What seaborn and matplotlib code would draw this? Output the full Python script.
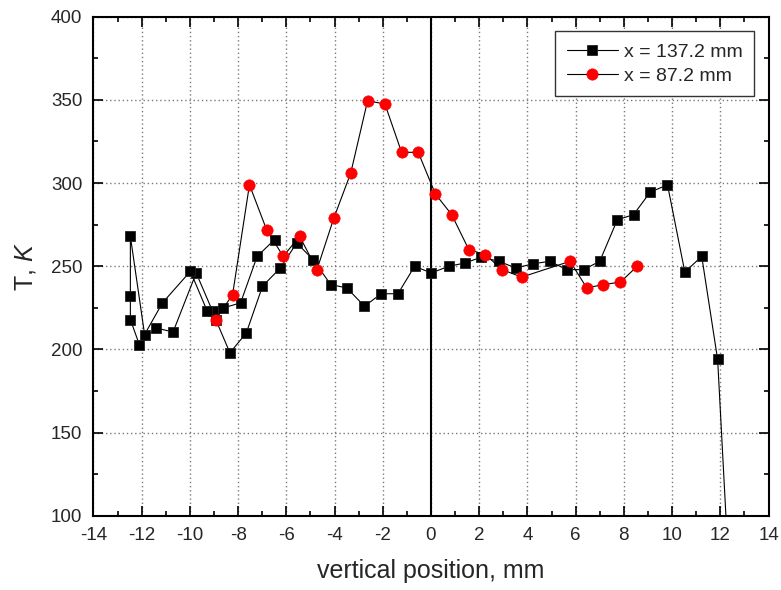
import matplotlib
matplotlib.use("Agg")
import matplotlib.pyplot as plt
from matplotlib.ticker import MultipleLocator
import seaborn as sns

# Temperature profile across the channel at x = 137.2 mm (scan order preserved)
black_x = [-6.49, -7.21, -7.90, -8.62, -9.06, -9.74, -10.70, -11.42, -12.10,
           -12.47, -12.47, -12.47, -11.88, -11.14, -9.98, -9.28, -8.93, -8.34,
           -7.66, -6.99, -6.25, -5.57, -4.89, -4.16, -3.49, -2.76, -2.07, -1.37,
           -0.68, 0.01, 0.74, 1.41, 2.09, 2.81, 3.52, 4.23, 4.92, 5.64, 6.33,
           7.00, 7.73, 8.40, 9.09, 9.81, 10.53, 11.23, 11.89, 12.60]
black_y = [266, 256, 228, 225, 223, 246, 210.5, 213, 203,
           218, 232, 268, 209, 228, 247, 223, 218, 198,
           210, 238, 249, 264, 254, 239, 237, 226, 233.5, 233.5,
           250, 246, 250, 252, 255.5, 253, 249, 251.5, 253, 248, 248,
           253, 278, 281, 294.5, 299, 246.5, 256, 194, 0]

# Temperature profile at x = 87.2 mm
red_x = [-8.93, -8.23, -7.53, -6.82, -6.13, -5.45, -4.73, -4.03, -3.33, -2.63,
         -1.91, -1.22, -0.53, 0.18, 0.86, 1.57, 2.26, 2.95, 3.76, 5.77, 6.46,
         7.15, 7.86, 8.55]
red_y = [218, 233, 299, 272, 256, 268, 248, 279, 306, 349.5,
         347.5, 318.5, 318.5, 293.5, 281, 260, 257, 248, 243.5, 253, 237,
         239, 240.5, 250]

labels = ["x = 137.2 mm", "x = 87.2 mm"]

sns.set_style("white")
plt.rcParams["font.family"] = ["Liberation Sans", "DejaVu Sans"]
plt.rcParams["axes.unicode_minus"] = False
plt.rcParams["mathtext.fontset"] = "custom"
plt.rcParams["mathtext.rm"] = "Liberation Sans"
plt.rcParams["mathtext.it"] = "Liberation Sans:italic"

fig = plt.figure(figsize=(7.81, 5.90), dpi=100)
ax = fig.add_axes([0.1197, 0.1256, 0.8643, 0.8461])

sns.lineplot(x=black_x, y=black_y, sort=False, estimator=None, ax=ax,
             color="black", linewidth=0.8, marker="s", markersize=7.3,
             markerfacecolor="black", markeredgecolor="#222222",
             markeredgewidth=0.6, label=labels[0])
sns.lineplot(x=red_x, y=red_y, sort=False, estimator=None, ax=ax,
             color="black", linewidth=0.8, marker="o", markersize=8.2,
             markerfacecolor="#ff0000", markeredgecolor="#ff0000",
             markeredgewidth=0.4, label=labels[1])

# centre line of the channel
ax.axvline(0, color="black", linewidth=1.5, zorder=1.5)

ax.set_xlim(-14, 14)
ax.set_ylim(100, 400)
ax.xaxis.set_major_locator(MultipleLocator(2))
ax.xaxis.set_minor_locator(MultipleLocator(1))
ax.yaxis.set_major_locator(MultipleLocator(50))
ax.yaxis.set_minor_locator(MultipleLocator(25))

ax.set_axisbelow(True)
ax.grid(True, which="major", color="#7a7a7a", linestyle=(0, (1, 2)),
        linewidth=1.0)

for side in ["left", "right", "top", "bottom"]:
    ax.spines[side].set_visible(True)
    ax.spines[side].set_color("black")
    ax.spines[side].set_linewidth(1.5)

ax.tick_params(which="both", direction="in", top=True, right=True,
               bottom=True, left=True, color="black", width=1.2)
ax.tick_params(which="major", length=7, labelsize=13.5, pad=8)
ax.tick_params(which="minor", length=3.6)

ax.set_xlabel("vertical position, mm", fontsize=18, labelpad=11)
ax.set_ylabel(r"T, $\mathit{K}$", fontsize=18, labelpad=9)

leg = ax.legend(loc="upper right", fontsize=14, frameon=True, fancybox=False,
                shadow=False, framealpha=1, edgecolor="#333333",
                handlelength=2.6, handletextpad=0.3, borderpad=0.6,
                labelspacing=0.33, borderaxespad=0.75)
leg.get_frame().set_linewidth(1.0)

fig.savefig("out.png", dpi=100)
